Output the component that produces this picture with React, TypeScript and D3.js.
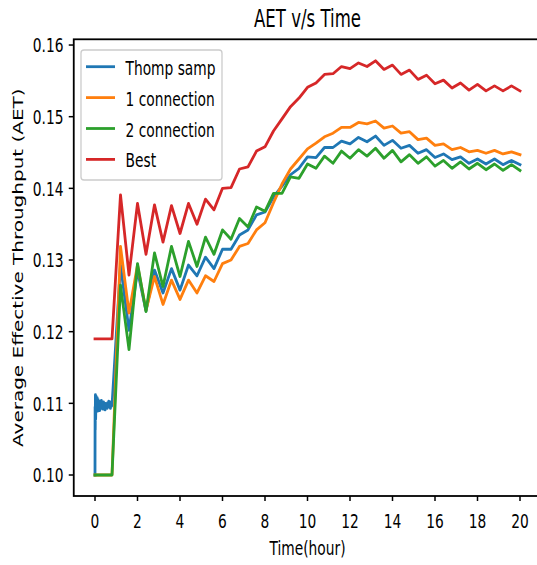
import React from "react";
import * as d3 from "d3";

const hours = [
  0, 0.4, 0.8, 1.2, 1.6, 2.0, 2.4, 2.8, 3.2, 3.6, 4.0, 4.4, 4.8, 5.2, 5.6, 6.0, 6.4, 6.8, 7.2, 7.6,
  8.0, 8.4, 8.8, 9.2, 9.6, 10.0, 10.4, 10.8, 11.2, 11.6, 12.0, 12.4, 12.8, 13.2, 13.6, 14.0, 14.4,
  14.8, 15.2, 15.6, 16.0, 16.4, 16.8, 17.2, 17.6, 18.0, 18.4, 18.8, 19.2, 19.6, 20.0,
];

// Thompson sampling: dense noisy start (0 - 0.8 h)
const thompEarlyHours = [
  0, 0.005, 0.01, 0.02, 0.03, 0.05, 0.075, 0.1, 0.125, 0.15, 0.175, 0.2, 0.225, 0.25, 0.275, 0.3,
  0.325, 0.35, 0.375, 0.4, 0.425, 0.45, 0.475, 0.5, 0.525, 0.55, 0.575, 0.6, 0.625, 0.65, 0.675,
  0.7, 0.725, 0.75, 0.775, 0.8,
];
const thompEarly = [
  0.1, 0.1095, 0.1063, 0.1112, 0.1078, 0.1110, 0.1092, 0.1108, 0.1089, 0.1105, 0.1095, 0.1103,
  0.1090, 0.1101, 0.1094, 0.1104, 0.1093, 0.1099, 0.1092, 0.1102, 0.1094, 0.1098, 0.1091, 0.11,
  0.1095, 0.1097, 0.1093, 0.1101, 0.1096, 0.1103, 0.1095, 0.11, 0.1093, 0.1102, 0.1096, 0.1097,
];
// Thompson sampling from 1.2 h onward (hours index 3..50)
const thompLate = [
  0.1293, 0.1202, 0.1285, 0.1229, 0.1286, 0.1254, 0.1288, 0.1258, 0.1293, 0.1278, 0.1304, 0.1288,
  0.1315, 0.1315, 0.1335, 0.1342, 0.1363, 0.1367, 0.1388, 0.1403, 0.1419, 0.1428, 0.1444, 0.1443,
  0.1457, 0.1457, 0.1466, 0.1462, 0.1471, 0.1465, 0.1473, 0.146, 0.1467, 0.1456, 0.146, 0.1449,
  0.1454, 0.1443, 0.1448, 0.144, 0.1444, 0.1435, 0.1441, 0.1434, 0.1441, 0.1433, 0.1439, 0.1433,
];
const oneConn = [
  0.1, 0.1, 0.1, 0.1319, 0.1226, 0.1293, 0.123, 0.1277, 0.1238, 0.1272, 0.1245, 0.1272, 0.1254,
  0.1278, 0.127, 0.1295, 0.13, 0.1319, 0.1323, 0.1342, 0.1352, 0.138, 0.1406, 0.1427, 0.1441,
  0.1455, 0.1463, 0.1472, 0.1477, 0.1485, 0.1485, 0.1492, 0.149, 0.1494, 0.1484, 0.1487, 0.1477,
  0.1479, 0.1468, 0.147, 0.146, 0.1462, 0.1454, 0.1457, 0.1451, 0.1453, 0.1449, 0.1453, 0.1448,
  0.1451, 0.1447,
];
const twoConn = [
  0.1, 0.1, 0.1, 0.1265, 0.1175, 0.1295, 0.1228, 0.131, 0.1263, 0.1319, 0.1277, 0.1326, 0.1291,
  0.1332, 0.1308, 0.1342, 0.1329, 0.1358, 0.1346, 0.1374, 0.1368, 0.1393, 0.1393, 0.1416, 0.1414,
  0.1434, 0.1428, 0.1445, 0.1435, 0.1452, 0.1442, 0.1454, 0.1445, 0.1456, 0.1442, 0.1453, 0.1437,
  0.1447, 0.1435, 0.1444, 0.1431, 0.1439, 0.1428, 0.1437, 0.1427, 0.1435, 0.1426, 0.1434, 0.1425,
  0.1433, 0.1425,
];
const best = [
  0.119, 0.119, 0.119, 0.1391, 0.1279, 0.1379, 0.1308, 0.1377, 0.1325, 0.1376, 0.1337, 0.1379,
  0.135, 0.1385, 0.137, 0.14, 0.1401, 0.1427, 0.143, 0.1452, 0.1458, 0.148, 0.1497, 0.1514, 0.1526,
  0.1541, 0.1547, 0.1559, 0.156, 0.157, 0.1567, 0.1575, 0.157, 0.1578, 0.1566, 0.1572, 0.1559,
  0.1565, 0.1552, 0.1558, 0.1546, 0.1551, 0.154, 0.1547, 0.1537, 0.1545, 0.1536, 0.1543, 0.1536,
  0.1543, 0.1536,
];

const seriesNames = ["Thomp samp", "1 connection", "2 connection", "Best"];
const seriesColors = ["#1f77b4", "#ff7f0e", "#2ca02c", "#d62728"];
const xTicks = [0, 2, 4, 6, 8, 10, 12, 14, 16, 18, 20];
const yTicks = [0.1, 0.11, 0.12, 0.13, 0.14, 0.15, 0.16];

const W = 537;
const H = 565;
const SQ = 0.69;
const FONT = "DejaVu Sans";

function SqText({ x, y, children, anchor = "middle", size = 20, rotate = false }: any) {
  const tf = rotate
    ? `translate(${x},${y}) rotate(-90) scale(1,${SQ})`
    : `translate(${x},${y}) scale(${SQ},1)`;
  return (
    <text
      transform={tf}
      textAnchor={anchor}
      fontFamily={FONT}
      fontSize={size}
      fill="#000"
    >
      {children}
    </text>
  );
}

export default function App() {
  const x = d3.scaleLinear().domain([-1, 21]).range([73.75, 541.25]);
  const y = d3.scaleLinear().domain([0.09707, 0.1608]).range([496, 39.3]);
  const line = d3
    .line<[number, number]>()
    .x((d) => x(d[0]))
    .y((d) => y(d[1]));

  const thompData: [number, number][] = [
    ...thompEarlyHours.map((h, i) => [h, thompEarly[i]] as [number, number]),
    ...thompLate.map((v, i) => [hours[i + 3], v] as [number, number]),
  ];
  const series: [number, number][][] = [
    thompData,
    hours.map((h, i) => [h, oneConn[i]] as [number, number]),
    hours.map((h, i) => [h, twoConn[i]] as [number, number]),
    hours.map((h, i) => [h, best[i]] as [number, number]),
  ];

  const [x0, x1] = x.range();
  const [yb, yt] = y.range();

  return (
    <svg
      width={W}
      height={H}
      style={{ position: "absolute", left: 0, top: 0, background: "#fff" }}
    >
      <rect x={0} y={0} width={W} height={H} fill="#fff" />
      <defs>
        <clipPath id="plotclip">
          <rect x={x0} y={yt} width={x1 - x0} height={yb - yt} />
        </clipPath>
      </defs>
      <g clipPath="url(#plotclip)">
        {series.map((d, i) => (
          <path
            key={i}
            d={line(d) || ""}
            fill="none"
            stroke={seriesColors[i]}
            strokeWidth={2.8}
            strokeLinejoin="round"
            strokeLinecap="square"
          />
        ))}
      </g>
      {/* spines */}
      <rect x={x0} y={yt} width={x1 - x0} height={yb - yt} fill="none" stroke="#000" strokeWidth={1.8} />
      {/* x ticks */}
      {xTicks.map((t) => (
        <g key={"x" + t}>
          <line x1={x(t)} x2={x(t)} y1={yb} y2={yb + 5} stroke="#000" strokeWidth={1.5} />
          <SqText x={x(t)} y={528}>{String(t)}</SqText>
        </g>
      ))}
      {/* y ticks */}
      {yTicks.map((t) => (
        <g key={"y" + t}>
          <line x1={x0 - 5} x2={x0} y1={y(t)} y2={y(t)} stroke="#000" strokeWidth={1.5} />
          <SqText x={63.5} y={y(t) + 7.2} anchor="end">
            {d3.format(".2f")(t)}
          </SqText>
        </g>
      ))}
      {/* title and labels */}
      <SqText x={(x0 + x1) / 2} y={27} size={24}>
        AET v/s Time
      </SqText>
      <SqText x={(x0 + x1) / 2} y={555}>
        Time(hour)
      </SqText>
      <SqText x={23} y={(yb + yt) / 2} rotate>
        Average Effective Throughput (AET)
      </SqText>
      {/* legend */}
      <rect
        x={81}
        y={50}
        width={141}
        height={130}
        rx={3}
        fill="#fff"
        fillOpacity={0.8}
        stroke="#cccccc"
        strokeWidth={1.3}
      />
      {seriesNames.map((n, i) => {
        const cy = 66.7 + i * 30.9;
        return (
          <g key={n}>
            <line x1={86} x2={115} y1={cy} y2={cy} stroke={seriesColors[i]} strokeWidth={2.8} />
            <SqText x={125.5} y={cy + 8} anchor="start">
              {n}
            </SqText>
          </g>
        );
      })}
    </svg>
  );
}
